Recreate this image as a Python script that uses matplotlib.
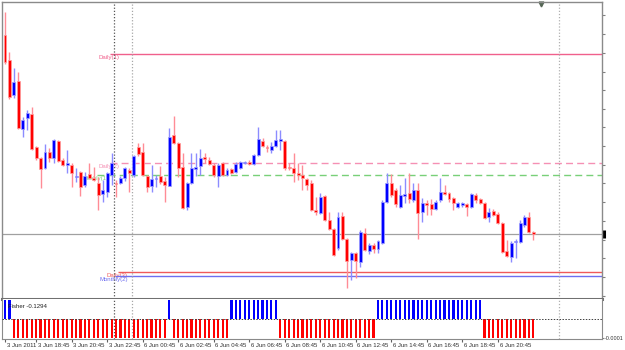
import numpy as np
import matplotlib
matplotlib.use('Agg')
import matplotlib.pyplot as plt
from matplotlib import transforms

plt.rcParams['font.family'] = ['Liberation Sans', 'DejaVu Sans']

# M15 bars, 3 Jun 2011 17:00 -> 6 Jun 2011 22:45
opens = [0.88965, 0.88940, 0.88905, 0.88919, 0.88871, 0.88882, 0.88886, 0.88853, 0.88842, 0.88832,
         0.88848, 0.88842, 0.88859, 0.88840, 0.88835, 0.88835, 0.88823, 0.88828, 0.88815, 0.88826,
         0.88822, 0.88817, 0.88806, 0.88808, 0.88825, 0.88817, 0.88817, 0.88822, 0.88830, 0.88825,
         0.88853, 0.88848, 0.88824, 0.88814, 0.88821, 0.88824, 0.88819, 0.88814, 0.88865, 0.88857,
         0.88833, 0.88793, 0.88817, 0.88831, 0.88834, 0.88843, 0.88840, 0.88835, 0.88824, 0.88837,
         0.88825, 0.88831, 0.88828, 0.88832, 0.88837, 0.88838, 0.88836, 0.88845, 0.88859, 0.88853,
         0.88850, 0.88854, 0.88859, 0.88859, 0.88833, 0.88832, 0.88827, 0.88825, 0.88821, 0.88817,
         0.88790, 0.88787, 0.88804, 0.88780, 0.88771, 0.88752, 0.88784, 0.88761, 0.88740, 0.88747,
         0.88738, 0.88767, 0.88749, 0.88755, 0.88751, 0.88757, 0.88798, 0.88817, 0.88810, 0.88793,
         0.88804, 0.88807, 0.88800, 0.88810, 0.88788, 0.88797, 0.88796, 0.88791, 0.88800, 0.88808,
         0.88807, 0.88802, 0.88793, 0.88795, 0.88796, 0.88793, 0.88805, 0.88801, 0.88797, 0.88783,
         0.88789, 0.88786, 0.88777, 0.88749, 0.88743, 0.88758, 0.88758, 0.88775, 0.88783, 0.88768]
highs = [0.88988, 0.88948, 0.88932, 0.88928, 0.88883, 0.88890, 0.88893, 0.88854, 0.88843, 0.88856,
         0.88852, 0.88861, 0.88860, 0.88842, 0.88850, 0.88837, 0.88832, 0.88829, 0.88828, 0.88837,
         0.88833, 0.88823, 0.88820, 0.88828, 0.88847, 0.88820, 0.88824, 0.88833, 0.88832, 0.88845,
         0.88857, 0.88857, 0.88825, 0.88835, 0.88825, 0.88834, 0.88823, 0.88872, 0.88884, 0.88858,
         0.88847, 0.88818, 0.88847, 0.88847, 0.88851, 0.88847, 0.88843, 0.88837, 0.88837, 0.88838,
         0.88832, 0.88832, 0.88838, 0.88839, 0.88839, 0.88840, 0.88846, 0.88873, 0.88862, 0.88855,
         0.88858, 0.88870, 0.88870, 0.88860, 0.88837, 0.88847, 0.88837, 0.88835, 0.88822, 0.88820,
         0.88803, 0.88807, 0.88805, 0.88788, 0.88772, 0.88788, 0.88788, 0.88762, 0.88748, 0.88748,
         0.88770, 0.88772, 0.88757, 0.88757, 0.88760, 0.88800, 0.88827, 0.88826, 0.88812, 0.88815,
         0.88822, 0.88827, 0.88817, 0.88817, 0.88802, 0.88800, 0.88801, 0.88800, 0.88822, 0.88815,
         0.88808, 0.88803, 0.88798, 0.88798, 0.88797, 0.88807, 0.88807, 0.88802, 0.88798, 0.88792,
         0.88791, 0.88788, 0.88778, 0.88760, 0.88759, 0.88761, 0.88780, 0.88785, 0.88788, 0.88769]
lows = [0.88936, 0.88901, 0.88902, 0.88871, 0.88863, 0.88870, 0.88850, 0.88840, 0.88812, 0.88831,
        0.88838, 0.88837, 0.88838, 0.88834, 0.88827, 0.88813, 0.88818, 0.88804, 0.88813, 0.88821,
        0.88819, 0.88790, 0.88798, 0.88803, 0.88815, 0.88803, 0.88816, 0.88819, 0.88808, 0.88823,
        0.88844, 0.88824, 0.88808, 0.88808, 0.88813, 0.88816, 0.88798, 0.88814, 0.88856, 0.88823,
        0.88791, 0.88790, 0.88816, 0.88824, 0.88825, 0.88837, 0.88835, 0.88823, 0.88813, 0.88824,
        0.88824, 0.88826, 0.88827, 0.88831, 0.88836, 0.88835, 0.88835, 0.88844, 0.88853, 0.88848,
        0.88847, 0.88853, 0.88850, 0.88830, 0.88830, 0.88818, 0.88820, 0.88810, 0.88810, 0.88789,
        0.88785, 0.88786, 0.88779, 0.88770, 0.88744, 0.88750, 0.88760, 0.88712, 0.88720, 0.88722,
        0.88733, 0.88749, 0.88746, 0.88747, 0.88747, 0.88756, 0.88797, 0.88803, 0.88793, 0.88792,
        0.88797, 0.88797, 0.88798, 0.88761, 0.88778, 0.88785, 0.88785, 0.88790, 0.88798, 0.88805,
        0.88798, 0.88790, 0.88792, 0.88793, 0.88784, 0.88792, 0.88797, 0.88796, 0.88781, 0.88778,
        0.88784, 0.88776, 0.88747, 0.88743, 0.88738, 0.88742, 0.88757, 0.88773, 0.88767, 0.88760]
closes = [0.88938, 0.88903, 0.88918, 0.88872, 0.88880, 0.88887, 0.88851, 0.88842, 0.88831, 0.88848,
          0.88842, 0.88860, 0.88839, 0.88835, 0.88837, 0.88827, 0.88824, 0.88813, 0.88824, 0.88822,
          0.88820, 0.88805, 0.88810, 0.88827, 0.88837, 0.88816, 0.88822, 0.88832, 0.88827, 0.88844,
          0.88846, 0.88825, 0.88813, 0.88821, 0.88822, 0.88818, 0.88815, 0.88863, 0.88857, 0.88832,
          0.88792, 0.88817, 0.88832, 0.88833, 0.88842, 0.88841, 0.88836, 0.88825, 0.88835, 0.88825,
          0.88830, 0.88827, 0.88836, 0.88838, 0.88838, 0.88836, 0.88845, 0.88861, 0.88854, 0.88852,
          0.88854, 0.88860, 0.88861, 0.88832, 0.88832, 0.88827, 0.88825, 0.88822, 0.88815, 0.88790,
          0.88788, 0.88803, 0.88780, 0.88771, 0.88745, 0.88783, 0.88761, 0.88739, 0.88747, 0.88739,
          0.88768, 0.88750, 0.88755, 0.88751, 0.88759, 0.88798, 0.88817, 0.88805, 0.88796, 0.88805,
          0.88806, 0.88801, 0.88810, 0.88787, 0.88797, 0.88795, 0.88791, 0.88798, 0.88808, 0.88806,
          0.88801, 0.88797, 0.88797, 0.88797, 0.88793, 0.88806, 0.88800, 0.88797, 0.88782, 0.88788,
          0.88785, 0.88777, 0.88748, 0.88744, 0.88757, 0.88759, 0.88777, 0.88783, 0.88768, 0.88766]

# Fisher histogram: sign per bar (bars are clipped at the panel limits)
fisher_sign = [1, 1, -1, -1, -1, -1, -1, -1, -1, -1,
               -1, -1, -1, -1, -1, -1, -1, -1, -1, -1,
               -1, -1, -1, -1, -1, -1, -1, -1, -1, -1,
               -1, -1, -1, -1, -1, -1, -1, 1, -1, -1,
               -1, -1, -1, -1, -1, -1, -1, -1, -1, -1,
               -1, 1, 1, 1, 1, 1, 1, 1, 1, 1,
               1, 1, -1, -1, -1, -1, -1, -1, -1, -1,
               -1, -1, -1, -1, -1, -1, -1, -1, -1, -1,
               -1, -1, -1, -1, 1, 1, 1, 1, 1, 1,
               1, 1, 1, 1, 1, 1, 1, 1, 1, 1,
               1, 1, 1, 1, 1, 1, 1, 1, -1, -1,
               -1, -1, -1, -1, -1, -1, -1, -1, -1, -1]
fisher_limit = 0.0001
fisher_last = -0.1294

# horizontal levels: name, price, start bar, colour, style
level_names = ['Daily(1)', 'Daily(2)', 'Weekly(1)', 'Daily(3)', 'Monthly(2)']
level_prices = [0.88946, 0.88837, 0.88825, 0.88728, 0.88724]
level_start = [23.6, 23.6, 20.7, 25.5, 24.8]
level_colors = ['#f0608c', '#f590b4', '#78d078', '#f05a5a', '#6e6ef0']
level_styles = ['-', (0, (5, 3)), (0, (5, 3)), '-', '-']
bid = 0.88766

time_bars = [0, 7, 15, 23, 31, 39, 47, 55, 63, 71, 79, 87, 95, 103, 111]
time_labels = ['3 Jun 2011', '3 Jun 18:45', '3 Jun 20:45', '3 Jun 22:45', '6 Jun 00:45',
               '6 Jun 02:45', '6 Jun 04:45', '6 Jun 06:45', '6 Jun 08:45', '6 Jun 10:45',
               '6 Jun 12:45', '6 Jun 14:45', '6 Jun 16:45', '6 Jun 18:45', '6 Jun 20:45']
vlines_at = [24.55, 28.6, 124.8]
price_ticks = [0.88985, 0.88966, 0.88947, 0.88928, 0.88910, 0.88891, 0.88873, 0.88854,
               0.88835, 0.88817, 0.88798, 0.88779, 0.88760, 0.88742, 0.88723, 0.88704]

o = np.array(opens)
h = np.array(highs)
l = np.array(lows)
c = np.array(closes)
x = np.arange(len(o))
bull = c >= o

fig = plt.figure(figsize=(6.25, 3.5), dpi=100)
fig.patch.set_facecolor('white')
ax = fig.add_axes([2 / 625, 51 / 350, 600 / 625, 297 / 350])
ax2 = fig.add_axes([2 / 625, 11 / 350, 600 / 625, 40 / 350], sharex=ax)

xlim = (-0.68, 134.46)
ax.set_xlim(*xlim)
ax.set_ylim(0.88701, 0.88998)

# levels
for name, p, s, col, ls in zip(level_names, level_prices, level_start, level_colors, level_styles):
    ax.hlines(p, s, xlim[1], colors=col, linestyles=ls, lw=1, zorder=1)
    ax.annotate(name, (s - 0.3, p), xytext=(0, -2.6), textcoords='offset points',
                ha='center', va='center', fontsize=4.3, color=col, zorder=1)
ax.axhline(bid, color='#a0a0a0', lw=0.9, zorder=1)

for i, v in enumerate(vlines_at):
    col = ['#555555', '#a8a8a8', '#b0b0b0'][i]
    for a in (ax, ax2):
        a.axvline(v, color=col, lw=0.9, ls=(0, (1, 1.5)), zorder=1)

# candles
wick_cols = np.where(bull, '#8c8cff', '#ff8c96')
body_cols = np.where(bull, '#0000ff', '#ff0000')
edge_cols = np.where(bull, '#a0a0ff', '#ffa0a0')
ax.vlines(x, l, h, colors=wick_cols, lw=1, zorder=2)
body_h = np.maximum(np.abs(c - o), 0.000012)
ax.bar(x, body_h, bottom=np.minimum(o, c), width=0.66, color=body_cols,
       edgecolor=edge_cols, lw=0.5, zorder=3)

# bid marker and chart shift marker
ax.plot([1.003], [bid], marker='|', ms=6, mew=2.2, color='black',
        transform=transforms.blended_transform_factory(ax.transAxes, ax.transData), clip_on=False)
ax.plot([120.7], [0.992], marker='v', ms=3.5, color='#556655',
        transform=transforms.blended_transform_factory(ax.transData, ax.transAxes), clip_on=False)

ax.yaxis.tick_right()
ax.set_yticks(price_ticks)
ax.set_yticklabels([])
ax.tick_params(axis='y', length=2, width=0.8, color='#808080')
ax.tick_params(axis='x', bottom=False, labelbottom=False)
for side in ['left', 'top', 'right']:
    ax.spines[side].set_color('#8a8a8a')
    ax.spines[side].set_linewidth(1)
ax.spines['bottom'].set_color('#707070')
ax.spines['bottom'].set_linewidth(2.2)

# Fisher panel
fv = np.array(fisher_sign) * fisher_limit
ax2.bar(x, fv, width=0.48, color=np.where(fv > 0, '#0000ff', '#ff0000'), lw=0, zorder=2)
ax2.axhline(0, color='#404040', lw=0.7, ls=(0, (1.5, 1.5)), zorder=3)
ax2.set_ylim(-fisher_limit * 1.06, fisher_limit * 1.06)
ax2.text(0.01, 0.82, 'Fisher %.4f' % fisher_last, transform=ax2.transAxes,
         fontsize=4.3, color='#202020', va='center', ha='left')
ax2.yaxis.tick_right()
ax2.set_yticks([-fisher_limit])
ax2.set_yticklabels(['%.4f' % -fisher_limit])
ax2.tick_params(axis='y', length=1.5, width=0.8, color='#808080', labelsize=3.9, pad=0.4,
                labelcolor='#303030')
ax2.set_xticks(time_bars)
ax2.set_xticklabels(time_labels)
ax2.tick_params(axis='x', length=2, width=0.8, color='#606060', labelsize=4.3, pad=0.8,
                labelcolor='#303030')
shift = transforms.ScaledTranslation(1.2 / 72, 0, fig.dpi_scale_trans)
for lab in ax2.get_xticklabels():
    lab.set_ha('left')
    lab.set_transform(lab.get_transform() + shift)
for side in ['left', 'right', 'bottom']:
    ax2.spines[side].set_color('#8a8a8a')
ax2.spines['top'].set_visible(False)

fig.savefig('out.png', dpi=100, facecolor='white')
